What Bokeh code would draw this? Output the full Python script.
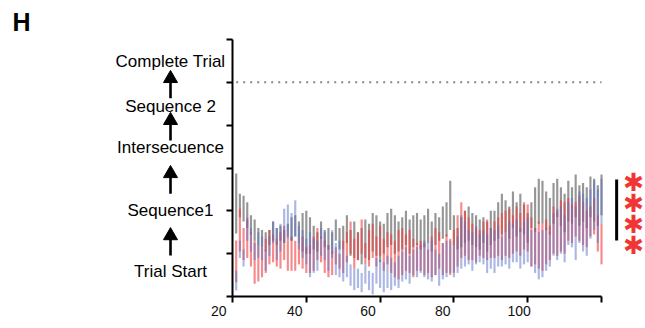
from bokeh.plotting import figure
from bokeh.models import Range1d, FixedTicker, LinearAxis, ColumnDataSource
from bokeh.core.properties import value
from bokeh.embed import file_html
from bokeh.resources import INLINE

# ---------------- data ----------------
trial_x = list(range(21, 121))

gray_hi = [2.87, 2.4, 2.35, 2.2, 1.9, 1.8, 1.6, 1.55, 1.5, 1.55,
           1.75, 1.6, 1.65, 1.55, 1.7, 1.85, 1.9, 1.75, 1.95, 2.0,
           1.85, 1.65, 1.5, 1.75, 1.55, 1.6, 1.5, 1.8, 1.6, 1.65,
           1.9, 1.55, 1.75, 1.5, 1.6, 1.8, 1.7, 1.95, 1.9, 1.75,
           1.7, 1.95, 2.05, 1.9, 1.75, 1.85, 2.0, 1.8, 1.9, 1.95,
           1.8, 1.9, 2.05, 1.75, 1.95, 1.85, 2.1, 2.2, 2.7, 1.9,
           1.6, 1.85, 2.0, 2.1, 1.95, 1.9, 1.8, 1.85, 1.75, 2.0,
           2.0, 2.2, 2.4, 2.25, 2.1, 2.45, 2.2, 2.4, 2.15, 1.95,
           2.2, 2.55, 2.75, 2.7, 2.45, 2.3, 2.65, 2.75, 2.55, 2.4,
           2.7, 2.55, 2.85, 2.6, 2.65, 2.55, 2.8, 2.75, 2.6, 2.85]
gray_lo = [1.47, 1.85, 1.75, 1.6, 1.45, 1.3, 1.2, 1.15, 1.05, 1.2,
           1.3, 1.2, 1.3, 1.25, 1.35, 1.3, 1.4, 1.25, 1.05, 1.0,
           1.0, 1.1, 1.05, 1.35, 1.15, 1.1, 1.0, 1.3, 1.1, 1.1,
           1.25, 0.95, 0.9, 0.85, 0.75, 0.9, 0.85, 1.05, 0.95, 0.8,
           1.0, 1.15, 1.2, 1.0, 1.05, 1.1, 1.2, 1.0, 1.15, 1.2,
           1.1, 1.15, 1.25, 1.05, 1.2, 1.3, 1.35, 1.4, 1.55, 1.2,
           1.1, 1.15, 1.25, 1.3, 1.2, 1.15, 1.1, 1.25, 1.05, 1.2,
           1.3, 1.35, 1.45, 1.5, 1.35, 1.6, 1.4, 1.5, 1.45, 1.25,
           1.6, 1.5, 1.7, 1.7, 1.55, 1.45, 1.7, 1.85, 1.65, 1.5,
           1.75, 1.7, 1.85, 1.65, 1.75, 1.6, 1.85, 1.75, 1.65, 1.9]
red_hi = [1.31, 2.05, 1.6, 1.8, 1.5, 1.3, 1.2, 1.15, 1.35, 1.55,
          1.45, 1.35, 1.5, 1.65, 1.35, 1.4, 1.3, 1.25, 1.4, 1.15,
          1.2, 1.4, 1.6, 1.4, 1.3, 1.2, 1.05, 1.15, 1.0, 1.3,
          1.5, 1.75, 1.35, 1.5, 1.8, 1.25, 1.55, 1.7, 1.4, 1.65,
          1.35, 1.5, 1.45, 1.3, 1.55, 1.6, 1.45, 1.55, 1.35, 1.25,
          1.3, 1.25, 1.1, 1.4, 1.6, 1.5, 1.25, 1.45, 1.35, 1.55,
          1.9, 2.2, 2.0, 1.85, 1.7, 1.6, 1.55, 1.75, 1.8, 1.6,
          1.75, 1.85, 1.95, 2.0, 2.05, 1.9, 2.1, 1.95, 2.2, 2.15,
          1.85, 1.6, 1.75, 1.7, 1.8, 1.65, 2.1, 2.0, 2.25, 2.2,
          2.3, 2.15, 2.2, 2.35, 2.2, 2.0, 2.1, 2.3, 1.9, 1.7]
red_lo = [0.33, 1.05, 0.85, 0.9, 0.7, 0.3, 0.35, 0.45, 0.55, 0.75,
          0.8, 0.7, 0.65, 0.85, 0.6, 0.6, 0.6, 0.75, 0.65, 0.55,
          0.55, 0.6, 0.85, 0.8, 0.55, 0.45, 0.5, 0.75, 0.65, 0.55,
          0.8, 1.0, 0.65, 0.85, 1.0, 0.75, 0.7, 0.9, 0.7, 0.95,
          0.6, 0.75, 0.55, 0.45, 0.4, 0.5, 0.6, 0.55, 0.45, 0.6,
          0.6, 0.5, 0.55, 0.45, 0.5, 0.65, 0.5, 0.55, 0.5, 0.55,
          0.7, 0.9, 0.95, 0.85, 0.85, 0.8, 0.95, 0.9, 0.85, 0.9,
          0.9, 0.95, 0.85, 0.95, 0.9, 1.0, 1.05, 0.95, 1.1, 1.05,
          0.7, 0.75, 0.65, 0.6, 0.75, 0.85, 1.0, 0.95, 1.05, 1.0,
          1.3, 1.25, 1.4, 1.3, 1.2, 1.15, 1.4, 1.45, 1.05, 0.75]
blue_hi = [0.6, 1.3, 1.1, 1.85, 1.6, 1.25, 1.5, 1.4, 1.1, 1.4,
           1.75, 1.6, 1.7, 2.05, 2.15, 1.95, 2.25, 1.65, 1.55, 1.35,
           1.5, 1.35, 1.3, 1.6, 1.5, 1.2, 1.55, 1.25, 1.3, 1.1,
           0.95, 0.75, 0.65, 0.65, 0.55, 0.75, 0.6, 0.55, 0.9, 0.85,
           0.8, 0.95, 0.9, 0.8, 0.95, 1.05, 1.15, 0.95, 1.1, 1.15,
           1.2, 1.3, 1.25, 1.3, 1.1, 1.0, 1.25, 1.3, 1.3, 1.2,
           1.4, 1.9, 1.75, 1.55, 1.5, 1.65, 1.45, 1.55, 1.45, 1.6,
           1.55, 1.65, 1.4, 1.5, 1.75, 1.7, 1.8, 1.6, 1.75, 1.85,
           1.55, 1.6, 1.5, 1.55, 1.6, 1.5, 1.95, 2.05, 2.1, 1.9,
           2.2, 2.3, 2.1, 2.45, 2.4, 2.3, 2.5, 2.7, 2.5, 2.75]
blue_lo = [0.14, 0.9, 0.7, 1.3, 1.05, 0.85, 0.9, 0.85, 0.6, 0.95,
           1.25, 0.85, 1.05, 1.25, 1.4, 1.3, 1.4, 1.1, 0.9, 0.75,
           0.45, 0.55, 0.6, 0.95, 0.85, 0.6, 0.9, 0.5, 0.45, 0.35,
           0.45, 0.25, 0.15, 0.2, 0.1, 0.3, 0.15, 0.05, 0.3, 0.2,
           0.1, 0.2, 0.15, 0.25, 0.2, 0.35, 0.4, 0.3, 0.5, 0.45,
           0.55, 0.45, 0.4, 0.35, 0.5, 0.25, 0.4, 0.45, 0.55, 0.45,
           0.55, 0.65, 0.7, 0.75, 0.6, 0.75, 0.8, 0.75, 0.55, 0.65,
           0.55, 0.7, 0.7, 0.75, 0.65, 0.8, 0.8, 0.65, 0.75, 0.8,
           0.7, 0.55, 0.4, 0.45, 0.6, 0.7, 0.95, 0.85, 1.0, 0.8,
           1.2, 1.15, 0.85, 1.25, 1.05, 0.95, 1.35, 1.55, 1.25, 1.7]

x_tick_values = [20, 40, 60, 80, 100, 120]
x_tick_labels = ["20", "40", "60", "80", "100"]
x_label_pos = [16.3, 36.9, 56.7, 77.0, 97.7]
y_tick_values = [0, 1, 2, 3, 4, 5, 6]
stage_labels = ["Trial Start", "Sequence1", "Intersecuence", "Sequence 2", "Complete Trial"]
stage_y = [0.58, 2.0, 3.48, 4.44, 5.49]
arrow_base = [0.96, 2.40, 3.64, 4.63]
arrow_head = [1.42, 2.87, 4.11, 5.09]
complete_level = 5
panel_letter = "H"
signif_text = "✱"
signif_y = [2.66, 2.17, 1.68, 1.19]
signif_span = (1.31, 2.73)

# ---------------- figure ----------------
# The frame covers the whole canvas; axes are pinned at x=20 / y=0.
p = figure(width=645, height=328, min_border=0,
           x_range=Range1d(-42.87, 131.92), y_range=Range1d(-0.747, 6.911),
           x_axis_location=None, y_axis_location=None,
           output_backend="svg", toolbar_location=None)
p.outline_line_color = None
p.grid.visible = False

FONT = "Liberation Sans"

src = ColumnDataSource(dict(x=trial_x, ghi=gray_hi, glo=gray_lo, rhi=red_hi, rlo=red_lo,
                            bhi=blue_hi, blo=blue_lo))
p.vbar(x="x", top="ghi", bottom="glo", width=0.58, source=src,
       fill_color="#505050", fill_alpha=0.6, line_color=None)
p.vbar(x="x", top="rhi", bottom="rlo", width=0.58, source=src,
       fill_color="#f03c3c", fill_alpha=0.6, line_color=None)
p.vbar(x="x", top="bhi", bottom="blo", width=0.58, source=src,
       fill_color="#5a72c8", fill_alpha=0.5, line_color=None)

# dotted "complete trial" level
p.segment(x0=trial_x[0], x1=trial_x[-1], y0=complete_level, y1=complete_level,
          line_color="#888888", line_width=2, line_dash="2 5")

# x axis line + ticks
xa = LinearAxis(fixed_location=0, bounds=(x_tick_values[0], x_tick_values[-1]),
                ticker=FixedTicker(ticks=x_tick_values))
xa.major_label_text_font_size = "0px"
xa.major_label_overrides = {v: "" for v in x_tick_values}
xa.major_tick_out = 6
xa.major_tick_in = 0
xa.major_tick_line_width = 2
xa.minor_tick_line_color = None
xa.axis_line_width = 2
xa.axis_line_color = "black"
p.add_layout(xa, "below")

# x tick labels (printed slightly left of their ticks in the original)
xl = LinearAxis(fixed_location=0, ticker=FixedTicker(ticks=x_label_pos))
xl.major_label_overrides = {v: t for v, t in zip(x_label_pos, x_tick_labels)}
xl.axis_line_color = None
xl.major_tick_line_color = None
xl.minor_tick_line_color = None
xl.major_tick_out = 6
xl.major_tick_in = 0
xl.major_label_standoff = 3
xl.major_label_text_font = FONT
xl.major_label_text_font_size = "14px"
xl.major_label_text_color = "#111111"
p.add_layout(xl, "below")

ya = LinearAxis(fixed_location=x_tick_values[0], bounds=(y_tick_values[0], y_tick_values[-1]),
                ticker=FixedTicker(ticks=y_tick_values))
ya.major_label_text_font_size = "0px"
ya.major_label_overrides = {v: "" for v in y_tick_values}
ya.major_tick_out = 6
ya.major_tick_in = 0
ya.major_tick_line_width = 2
ya.minor_tick_line_color = None
ya.axis_line_width = 2
ya.axis_line_color = "black"
p.add_layout(ya, "left")

# stage labels with arrows between them
lab_x = [3.2] * len(stage_labels)
p.text(x=lab_x, y=stage_y, text=stage_labels, text_align="center", text_baseline="middle",
       text_font=value(FONT), text_font_size=value("17px"), text_color="black")
arr_x = [3.2] * len(arrow_base)
p.segment(x0=arr_x, x1=arr_x, y0=arrow_base, y1=arrow_head, line_color="black", line_width=2.6)
p.scatter(x=arr_x, y=arrow_head, marker="triangle", size=14, fill_color="black",
          line_color="black")

p.text(x=[-39.6], y=[6.40], text=[panel_letter], text_align="left", text_baseline="middle",
       text_font=value(FONT), text_font_style="bold", text_font_size=value("25px"),
       text_color="black")

# significance bar and stars
p.segment(x0=[124.1], x1=[124.1], y0=[signif_span[0]], y1=[signif_span[1]],
          line_color="black", line_width=3)
p.text(x=[128.7] * len(signif_y), y=signif_y, text=[signif_text] * len(signif_y),
       text_align="center", text_baseline="middle", text_font=value("DejaVu Sans"),
       text_font_size=value("25px"), text_color="#f03535")

open("out.html", "w").write(file_html(p, INLINE))
